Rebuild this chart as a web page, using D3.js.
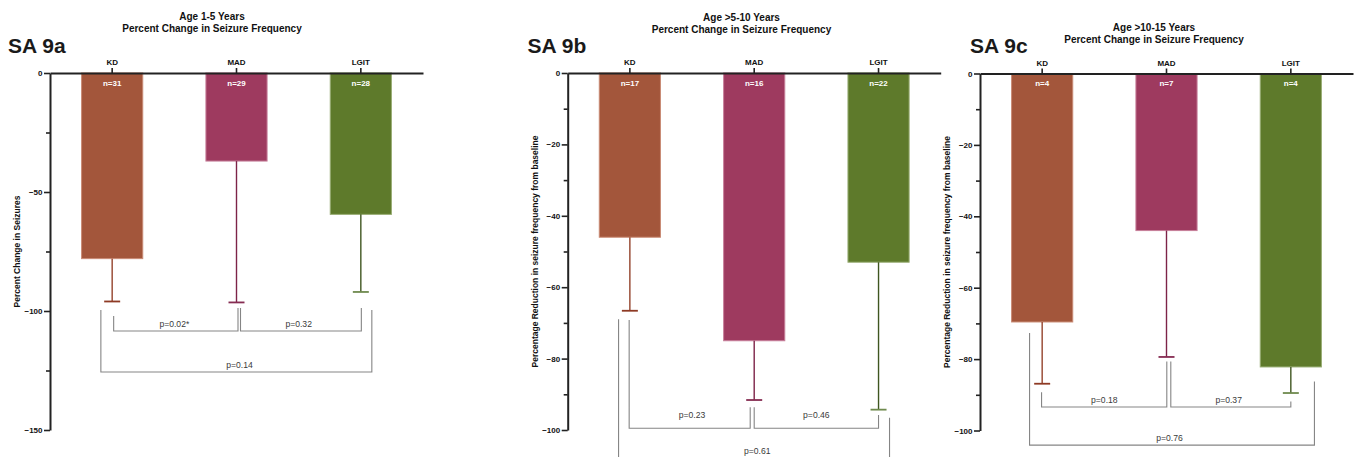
<!DOCTYPE html>
<html>
<head>
<meta charset="utf-8">
<script src="https://cdn.jsdelivr.net/npm/d3@7/dist/d3.min.js"></script>
<style>
  html, body { margin: 0; padding: 0; background: #fff; }
  svg { display: block; font-family: "Liberation Sans", Arial, Helvetica, sans-serif; }
</style>
</head>
<body>
<svg id="chart" width="1356" height="457"></svg>
<script>
// Diet groups shown in every panel
const categories = ["KD", "MAD", "LGIT"];

// Panel headings
const panelTags = ["SA 9a", "SA 9b", "SA 9c"];
const titleLine1 = ["Age 1-5 Years", "Age >5-10 Years", "Age >10-15 Years"];
const titleLine2 = ["Percent Change in Seizure Frequency", "Percent Change in Seizure Frequency", "Percent Change in Seizure Frequency"];
const yTitles = [
  "Percent Change in Seizures",
  "Percentage Reduction in seizure frequency from baseline",
  "Percentage Reduction in seizure frequency from baseline"
];

// Mean percent change per group, and the end of the error bar
const meanAge1to5 = [-78, -37, -59.4];
const errAge1to5 = [-96, -96.4, -92];
const nAge1to5 = [31, 29, 28];

const meanAge5to10 = [-46, -75, -53];
const errAge5to10 = [-66.6, -91.6, -94.3];
const nAge5to10 = [17, 16, 22];

const meanAge10to15 = [-69.6, -44, -82.2];
const errAge10to15 = [-86.9, -79.4, -89.5];
const nAge10to15 = [4, 7, 4];

// Y axis ranges and ticks
const yDomains = [[0, -150], [0, -100], [0, -100]];
const majorTicks = [[0, -50, -100, -150], [0, -20, -40, -60, -80, -100], [0, -20, -40, -60, -80, -100]];
const minorTicks = [[-25, -75, -125], [-10, -30, -50, -70, -90], [-10, -30, -50, -70, -90]];

// Pairwise comparisons (levels in axis units)
const bracketsAge1to5 = [
  { from: "KD", to: "MAD", p: "p=0.02*", level: -108.4, fromTop: -102.1, toTop: -98.7, text: -106.6 },
  { from: "MAD", to: "LGIT", p: "p=0.32", level: -108.4, fromTop: -98.7, toTop: -98.7, text: -106.6 },
  { from: "KD", to: "LGIT", p: "p=0.14", level: -125.6, fromTop: -99.6, toTop: -99.6, text: -123.8 }
];
const bracketsAge5to10 = [
  { from: "KD", to: "MAD", p: "p=0.23", level: -99.5, fromTop: -69.2, toTop: -93.6, text: -96.6 },
  { from: "MAD", to: "LGIT", p: "p=0.46", level: -99.5, fromTop: -93.6, toTop: -95.8, text: -96.6 },
  { from: "KD", to: "LGIT", p: "p=0.61", level: -110, fromTop: -69, toTop: -96.6, text: -106.6 }
];
const bracketsAge10to15 = [
  { from: "KD", to: "MAD", p: "p=0.18", level: -93.4, fromTop: -89.3, toTop: -80.7, text: -92.2 },
  { from: "MAD", to: "LGIT", p: "p=0.37", level: -93.4, fromTop: -80.7, toTop: -91.9, text: -92.2 },
  { from: "KD", to: "LGIT", p: "p=0.76", level: -104.1, fromTop: -72.7, toTop: -86.3, text: -102.9 }
];

const panelData = [
  { mean: meanAge1to5, err: errAge1to5, n: nAge1to5, brackets: bracketsAge1to5 },
  { mean: meanAge5to10, err: errAge5to10, n: nAge5to10, brackets: bracketsAge5to10 },
  { mean: meanAge10to15, err: errAge10to15, n: nAge10to15, brackets: bracketsAge10to15 }
];

// Layout of each panel on the page
const layout = [
  { x: 50, top: 73, bottom: 430, titleX: 212, titleY: 19.5, tagX: 8, legOffsets: [[1.5, 1.5], [4, 0.5], [-11.3, 11]] },
  { x: 567.7, top: 73, bottom: 430, titleX: 741.5, titleY: 20.5, tagX: 527.5, legOffsets: [[-0.7, -4], [0, 0], [-11.3, 11]] },
  { x: 980, top: 73.5, bottom: 430.5, titleX: 1154, titleY: 30.5, tagX: 970, legOffsets: [[-0.6, 0.3], [4.3, 0], [-12.6, 23.6]] }
];
const plotWidth = 373;

const fills = { KD: "#a3563b", MAD: "#9e3a5f", LGIT: "#5e7a2b" };
const edges = { KD: "#c98a74", MAD: "#c77f9a", LGIT: "#98ad74" };
const whisker = { KD: "#94432c", MAD: "#7d2348", LGIT: "#3f5620" };
const capColor = { KD: "#8e3a24", MAD: "#862c52", LGIT: "#6f8a4e" };

const svg = d3.select("#chart");

panelData.forEach((d, i) => {
  const L = layout[i];
  const g = svg.append("g");

  const x = d3.scaleBand()
    .domain(categories)
    .range([L.x, L.x + plotWidth])
    .paddingInner(0.5)
    .paddingOuter(0.25);
  const y = d3.scaleLinear().domain(yDomains[i]).range([L.top, L.bottom]);
  const cx = c => x(c) + x.bandwidth() / 2;

  // panel tag and title
  g.append("text")
    .attr("x", L.tagX).attr("y", 53)
    .attr("font-size", 21).attr("font-weight", "bold").attr("fill", "#1a1a1a")
    .text(panelTags[i]);
  g.append("text")
    .attr("x", L.titleX).attr("y", L.titleY)
    .attr("text-anchor", "middle").attr("font-size", 10).attr("font-weight", "bold").attr("fill", "#111")
    .text(titleLine1[i]);
  g.append("text")
    .attr("x", L.titleX).attr("y", L.titleY + 12.3)
    .attr("text-anchor", "middle").attr("font-size", 10).attr("font-weight", "bold").attr("fill", "#111")
    .text(titleLine2[i]);

  // bars
  categories.forEach((c, j) => {
    g.append("rect")
      .attr("x", x(c) + 0.5)
      .attr("y", y(0))
      .attr("width", x.bandwidth() - 1)
      .attr("height", y(d.mean[j]) - y(0))
      .attr("fill", fills[c])
      .attr("stroke", edges[c])
      .attr("stroke-width", 1);

    // error bar below the bar
    g.append("line")
      .attr("x1", cx(c)).attr("x2", cx(c))
      .attr("y1", y(d.mean[j])).attr("y2", y(d.err[j]))
      .attr("stroke", whisker[c]).attr("stroke-width", 1.4);
    g.append("line")
      .attr("x1", cx(c) - 8).attr("x2", cx(c) + 8)
      .attr("y1", y(d.err[j])).attr("y2", y(d.err[j]))
      .attr("stroke", capColor[c]).attr("stroke-width", 1.8);

    // group size
    g.append("text")
      .attr("x", cx(c)).attr("y", y(0) + 12.5)
      .attr("text-anchor", "middle").attr("font-size", 8).attr("font-weight", "bold").attr("fill", "#fff")
      .text("n=" + d.n[j]);
  });

  // comparison brackets
  d.brackets.forEach((b, k) => {
    const [o1, o2] = L.legOffsets[k];
    const x1 = cx(b.from) + o1, x2 = cx(b.to) + o2;
    g.append("path")
      .attr("d", `M${x1},${y(b.fromTop)}V${y(b.level)}H${x2}V${y(b.toTop)}`)
      .attr("fill", "none").attr("stroke", "#858585").attr("stroke-width", 1.1);
    g.append("text")
      .attr("x", (cx(b.from) + cx(b.to)) / 2 + (k === 2 ? 3 : 0))
      .attr("y", y(b.text))
      .attr("text-anchor", "middle").attr("font-size", 8.6).attr("fill", "#3a3a3a")
      .text(b.p);
  });

  // category axis along zero
  const xAxis = g.append("g")
    .attr("transform", `translate(0,${y(0)})`)
    .call(d3.axisTop(x).tickSize(5).tickSizeOuter(0).tickPadding(3));
  xAxis.select(".domain").attr("stroke", "#222").attr("stroke-width", 2);
  xAxis.selectAll(".tick line").attr("stroke", "#222").attr("stroke-width", 1.6);
  xAxis.selectAll(".tick text").attr("font-size", 8).attr("font-weight", "bold").attr("fill", "#111")
    .attr("font-family", "Liberation Sans, Arial, sans-serif");

  // value axis
  const yMinor = g.append("g")
    .attr("transform", `translate(${L.x},0)`)
    .call(d3.axisLeft(y).tickValues(minorTicks[i]).tickSize(4).tickFormat(""));
  yMinor.select(".domain").remove();
  yMinor.selectAll(".tick line").attr("stroke", "#222").attr("stroke-width", 1.6);

  const yAxis = g.append("g")
    .attr("transform", `translate(${L.x},0)`)
    .call(d3.axisLeft(y).tickValues(majorTicks[i]).tickSize(6).tickSizeOuter(0).tickPadding(1.5));
  yAxis.select(".domain").attr("stroke", "#222").attr("stroke-width", 2);
  yAxis.selectAll(".tick line").attr("stroke", "#222").attr("stroke-width", 1.6);
  yAxis.selectAll(".tick text").attr("font-size", 8).attr("font-weight", "bold").attr("fill", "#111")
    .attr("font-family", "Liberation Sans, Arial, sans-serif");

  g.append("text")
    .attr("transform", `translate(${L.x - 30},${(L.top + L.bottom) / 2}) rotate(-90)`)
    .attr("text-anchor", "middle").attr("font-size", 8.5).attr("font-weight", "bold").attr("fill", "#111")
    .text(yTitles[i]);
});
</script>
</body>
</html>
